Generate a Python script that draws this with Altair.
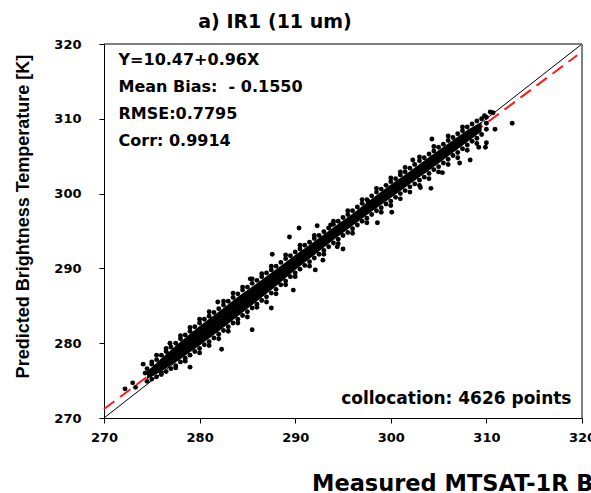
import altair as alt
import pandas as pd

# ---------------- data ----------------
# solid (saturated) part of the scatter cloud: lower / upper edge per X
core_x = [274.5, 275.0, 276.0, 278.0, 280.0, 282.0, 284.0, 286.0, 288.0, 290.0,
          292.0, 294.0, 296.0, 298.0, 300.0, 302.0, 304.0, 306.0, 308.0, 309.5]
core_lo = [275.2, 275.5, 276.2, 277.9, 279.7, 281.6, 283.6, 285.6, 287.6, 289.8,
           291.8, 293.8, 295.7, 297.6, 299.4, 301.3, 303.1, 305.0, 306.9, 308.3]
core_hi = [276.3, 276.8, 278.0, 280.2, 282.3, 284.2, 286.2, 288.0, 289.9, 291.8,
           293.6, 295.5, 297.3, 299.3, 301.2, 303.0, 304.9, 306.7, 308.5, 309.6]

# individual points around the edges of the cloud
band_x = [274.5, 275.0, 275.5, 276.0, 276.5, 277.0, 277.5, 278.0, 278.5, 279.0,
          279.5, 280.0, 280.5, 281.0, 281.5, 282.0, 282.5, 283.0, 283.5, 284.0,
          284.5, 285.0, 285.5, 286.0, 286.5, 287.0, 287.5, 288.0, 288.5, 289.0,
          289.5, 290.0, 290.5, 291.0, 291.5, 292.0, 292.5, 293.0, 293.5, 294.0,
          294.5, 295.0, 295.5, 296.0, 296.5, 297.0, 297.5, 298.0, 298.5, 299.0,
          299.5, 300.0, 300.5, 301.0, 301.5, 302.0, 302.5, 303.0, 303.5, 304.0,
          304.5, 305.0, 305.5, 306.0, 306.5, 307.0, 307.5, 308.0, 308.5, 309.0,
          309.5, 310.0]
band_y = [
    [274.9, 276.6], [275.2, 277.2, 277.5], [275.5, 277.8], [275.8, 276.0, 278.4],
    [276.2, 278.9, 279.3], [276.6, 279.5], [277.0, 276.7, 280.0], [277.5, 280.6, 281.0],
    [278.0, 277.6, 281.1], [278.4, 281.6, 282.1], [278.9, 282.2], [279.3, 278.7, 282.7, 283.2],
    [279.8, 283.2], [280.2, 279.7, 283.6, 284.2], [280.7, 284.1], [281.2, 280.6, 284.6],
    [281.7, 285.1, 285.6], [282.2, 281.6, 285.6], [282.7, 286.1, 286.7], [283.2, 282.7, 286.6],
    [283.7, 287.1, 287.5], [284.2, 283.5, 287.5], [284.7, 288.0, 288.6], [285.2, 284.8, 288.4],
    [285.7, 288.9, 289.3], [286.2, 285.5, 289.4], [286.7, 289.8, 290.3], [287.2, 286.6, 290.3],
    [287.8, 290.8], [288.3, 287.8, 291.3, 291.8], [288.9, 291.7], [289.4, 288.9, 292.2],
    [289.9, 292.6, 293.1], [290.4, 293.1], [290.9, 290.3, 293.5], [291.4, 294.0, 294.4],
    [291.9, 294.4], [292.4, 291.9, 294.9], [292.9, 295.4], [293.4, 295.9, 296.3],
    [293.9, 293.3, 296.3], [294.4, 296.8], [294.8, 297.2, 297.7], [295.3, 294.7, 297.7],
    [295.8, 298.2], [296.3, 298.7, 299.2], [296.7, 296.1, 299.2], [297.2, 299.7],
    [297.7, 300.2, 300.7], [298.1, 297.5, 300.6], [298.6, 301.1], [299.0, 298.4, 301.6, 302.1],
    [299.5, 302.0], [300.0, 299.3, 302.5], [300.4, 302.9, 303.5], [300.9, 300.2, 303.4],
    [301.3, 303.9], [301.8, 301.1, 304.4, 304.9], [302.2, 304.8], [302.7, 302.0, 305.3],
    [303.2, 305.7, 306.3], [303.6, 302.9, 306.2], [304.1, 306.6], [304.6, 303.9, 307.1, 307.7],
    [305.1, 307.5], [305.5, 304.8, 308.0], [306.0, 308.4, 308.9], [306.5, 305.8, 308.9],
    [307.0, 309.3], [307.4, 306.7, 309.7], [307.9, 310.0], [308.6, 309.4, 310.2],
]
outlier_x = [272.2, 273.0, 273.3, 274.1, 274.3, 275.5, 276.9, 279.0, 282.3, 281.9,
             285.5, 285.3, 287.5, 287.6, 289.4, 289.8, 290.4, 292.1, 292.3, 292.9,
             293.7, 294.4, 295.0, 297.6, 298.6, 300.1, 301.0, 302.3, 303.1, 304.2,
             304.3, 305.4, 307.2, 308.3, 309.2, 309.9, 310.0, 310.7, 309.8, 310.9,
             312.7, 310.4]
outlier_y = [273.9, 274.7, 274.1, 277.2, 276.0, 278.4, 280.0, 276.8, 279.2, 285.5,
             281.8, 288.6, 284.7, 291.9, 294.2, 287.1, 295.4, 289.8, 295.7, 291.1,
             295.8, 292.9, 292.6, 299.0, 296.1, 297.5, 302.9, 304.5, 300.8, 300.7,
             307.3, 302.8, 304.1, 304.5, 306.2, 306.2, 306.8, 310.8, 310.4, 308.6,
             309.4, 310.9]

one_to_one_x = [270, 320]
one_to_one_y = [270, 320]
fit_x = [270.0, 319.5]
fit_y = [271.2, 318.5]

axis_ticks = [270, 280, 290, 300, 310, 320]
stats_lines = ["Y=10.47+0.96X", "Mean Bias:\u00a0\u00a0- 0.1550", "RMSE:0.7795", "Corr: 0.9914"]
count_label = "collocation: 4626 points"
title_text = "a) IR1 (11 um)"
x_title = "Measured MTSAT-1R Brightness Temperature [K]"
y_title = "Predicted Brightness Temperature [K]"

# ---------------- tables ----------------
rows = []
for bx, ys in zip(band_x, band_y):
    for by in ys:
        rows.append({"x": bx, "y": by})
for ox, oy in zip(outlier_x, outlier_y):
    rows.append({"x": ox, "y": oy})
points_df = pd.DataFrame(rows)
core_df = pd.DataFrame({"x": core_x, "y": core_lo, "y2": core_hi})
diag_df = pd.DataFrame({"x": one_to_one_x, "y": one_to_one_y})
fit_df = pd.DataFrame({"x": fit_x, "y": fit_y})

W, H = 478, 374
BOLD = "DejaVu Sans"

xs = alt.Scale(domain=[270, 320], nice=False, zero=False)
ys_ = alt.Scale(domain=[270, 320], nice=False, zero=False)

X = alt.X("x:Q", scale=xs, axis=alt.Axis(
    values=axis_ticks, title=x_title, grid=False, labelPadding=8, labelFlush=False,
    titleX=207.5, titleY=72, titleAlign="left", titleBaseline="alphabetic",
    titleFont=BOLD, titleFontSize=22.5, titleFontWeight="bold"))
Y = alt.Y("y:Q", scale=ys_, axis=alt.Axis(
    values=axis_ticks, title=y_title, grid=False, labelPadding=18, labelFlush=False,
    labelAlign="right", labelBaseline="middle",
    titleX=-76, titleY=172, titleAngle=270, titleAlign="center",
    titleBaseline="alphabetic", titleFont="Liberation Sans",
    titleFontSize=18, titleFontWeight="bold"))

diag = alt.Chart(diag_df).mark_line(color="black", strokeWidth=1).encode(x=X, y=Y)
fit = alt.Chart(fit_df).mark_line(color="#ff1a1a", strokeWidth=2, strokeDash=[13, 7]).encode(x=X, y=Y)
core = alt.Chart(core_df).mark_area(color="black", opacity=1, interpolate="linear").encode(
    x=X, y=Y, y2="y2:Q")
pts = alt.Chart(points_df).mark_circle(size=24, color="black", opacity=1).encode(x=X, y=Y)

ann = pd.DataFrame({"text": ["\n".join(stats_lines)]})
stats = alt.Chart(ann).mark_text(
    align="left", baseline="alphabetic", font=BOLD, fontSize=16, fontWeight="bold",
    lineBreak="\n", lineHeight=27, color="black"
).encode(x=alt.value(14.5), y=alt.value(21), text="text:N")

cnt = alt.Chart(pd.DataFrame({"text": [count_label]})).mark_text(
    align="right", baseline="alphabetic", font=BOLD, fontSize=17, fontWeight="bold", color="black"
).encode(x=alt.value(467.5), y=alt.value(360), text="text:N")

ttl = alt.Chart(pd.DataFrame({"text": [title_text]})).mark_text(
    align="center", baseline="alphabetic", font=BOLD, fontSize=19, fontWeight="bold", color="black"
).encode(x=alt.value(171), y=alt.value(-16), text="text:N")

top_rule = alt.Chart(pd.DataFrame({"a": [0]})).mark_rule(color="black", strokeWidth=1).encode(
    x=alt.value(0), x2=alt.value(W), y=alt.value(0))
right_rule = alt.Chart(pd.DataFrame({"a": [0]})).mark_rule(color="#7f7f7f", strokeWidth=2).encode(
    x=alt.value(W), y=alt.value(0), y2=alt.value(H))

chart = alt.layer(diag, fit, core, pts, stats, cnt, ttl, top_rule, right_rule).properties(
    width=W, height=H,
    autosize=alt.AutoSizeParams(type="none"),
    padding={"left": 104, "top": 44, "right": 9, "bottom": 75},
    background="white",
).configure_view(stroke=None).configure_axis(
    labelFont=BOLD, labelFontSize=13, labelFontWeight="bold", labelColor="black",
    domainColor="black", tickColor="black", tickSize=5, domainWidth=1, tickWidth=1,
    titleColor="black"
)

chart.save("out.html", embed_options={"renderer": "svg", "actions": False})
